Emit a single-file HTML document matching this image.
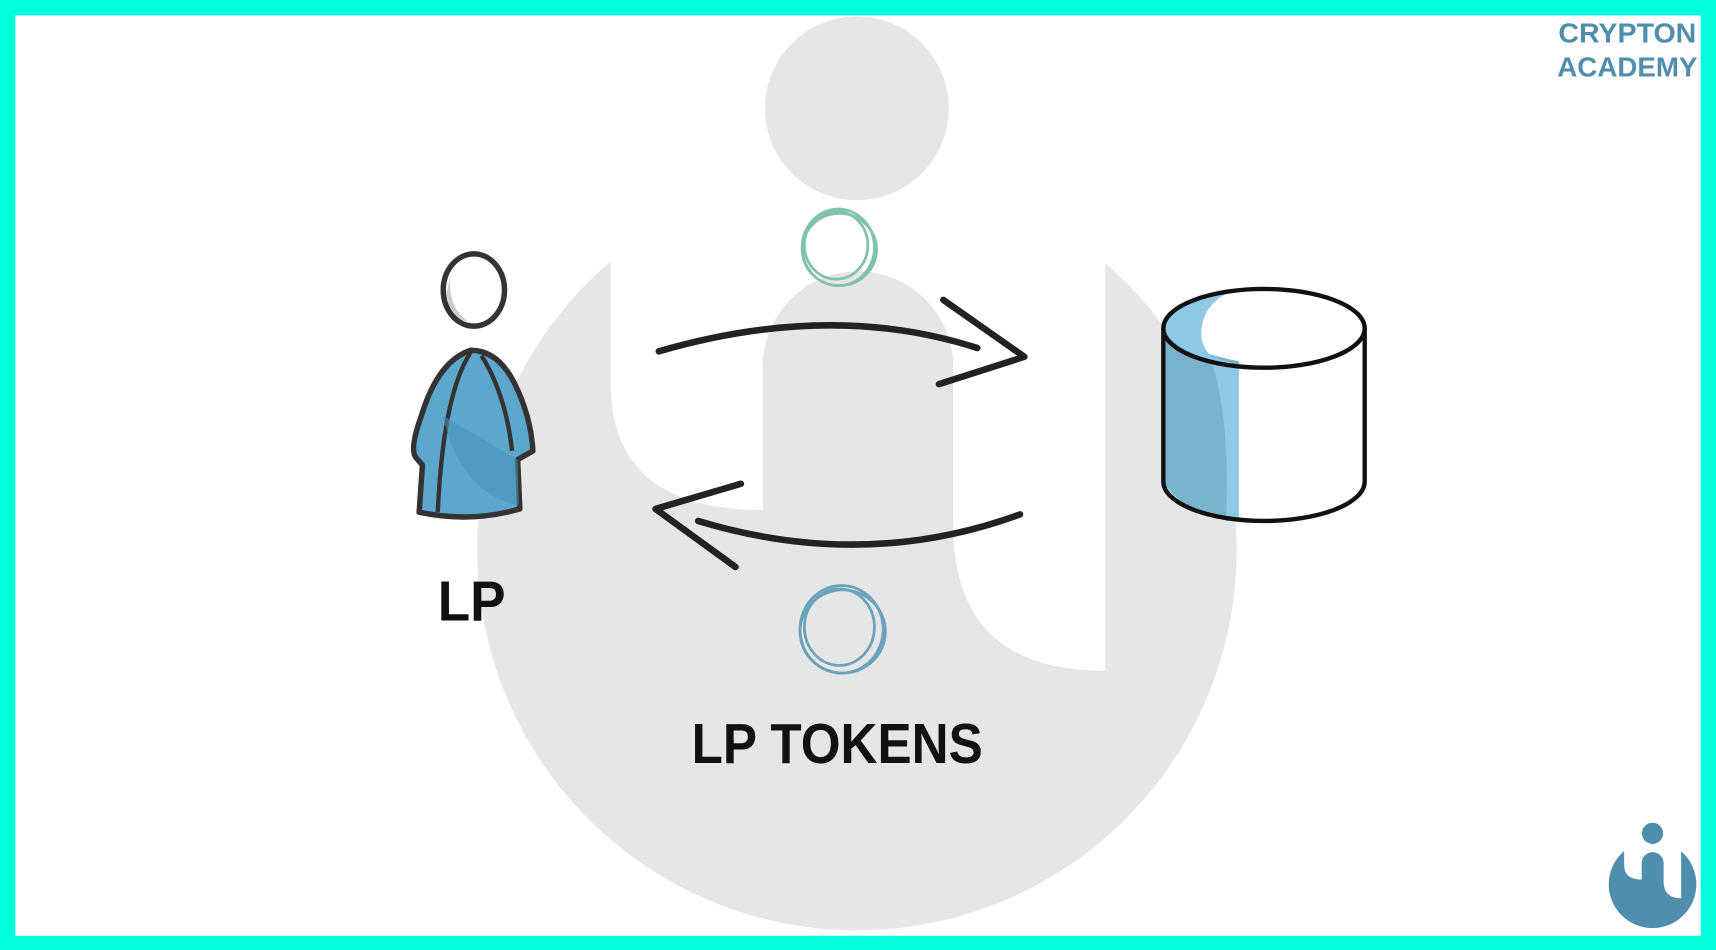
<!DOCTYPE html>
<html><head><meta charset="utf-8"><style>
html,body{margin:0;padding:0;background:#fff;}
svg{display:block;}
</style></head><body>
<svg width="1716" height="950" viewBox="0 0 1568 868" preserveAspectRatio="none" xmlns="http://www.w3.org/2000/svg">
<defs>
<g id="logo">
  <circle cx="783" cy="503" r="347"/>
  <path d="M558,100 L558,350 Q558,466 697,466 L697,335 A87,87 0 0 1 871,335 L871,480 Q871,613 1010,613 L1010,100 Z" fill="#fff"/>
  <circle cx="783" cy="99" r="84"/>
</g>
</defs>
<rect x="0" y="0" width="1568" height="868" fill="#fff"/>
<use href="#logo" fill="#e6e6e6"/>
<g transform="translate(1510,808) scale(0.1153) translate(-783,-503)"><use href="#logo" fill="#4f8fad"/></g>
<text x="1487" y="39" font-family="Liberation Sans, sans-serif" font-weight="bold" font-size="25" fill="#4f8fad" text-anchor="middle" textLength="126" lengthAdjust="spacingAndGlyphs">CRYPTON</text>
<text x="1487" y="70" font-family="Liberation Sans, sans-serif" font-weight="bold" font-size="25" fill="#4f8fad" text-anchor="middle" textLength="128" lengthAdjust="spacingAndGlyphs">ACADEMY</text>

<!-- person -->
<ellipse cx="433" cy="265" rx="28" ry="33" fill="#fff" stroke="#333" stroke-width="5"/>
<path d="M412,250 Q408,280 428,294 Q410,290 408,268 Z" fill="#ccc"/>
<path d="M430,320 Q400,330 385,380 Q374,410 380,418 L386,425 L383,468 Q430,478 475,465 L473,420 L487,412 Q485,380 470,350 Q455,320 430,320 Z" fill="#5ba8cc" stroke="#333" stroke-width="5" stroke-linejoin="round"/>
<path d="M430,322 Q405,360 400,468" fill="none" stroke="#333" stroke-width="4"/>
<path d="M440,325 Q462,360 468,412" fill="none" stroke="#333" stroke-width="4"/>
<path d="M405,380 Q420,450 474,462 L473,420 Z" fill="#4a93b8" opacity="0.6"/>

<!-- arrows -->
<g fill="none" stroke="#222" stroke-width="6" stroke-linecap="round" stroke-linejoin="round">
<path d="M602,321 Q760,275 893,318"/>
<path d="M862,274 L936,326 L858,351"/>
<path d="M932,470 Q790,522 638,476"/>
<path d="M677,442 L599,465 L672,518"/>
</g>

<!-- coins -->
<g fill="none" stroke="#80c2ac" stroke-width="2.5">
<ellipse cx="766" cy="226" rx="33" ry="35"/>
<ellipse cx="764" cy="224" rx="29" ry="31"/>
<ellipse cx="767" cy="228" rx="34" ry="33"/>
</g>
<g fill="none" stroke="#6aa2bc" stroke-width="2.5">
<ellipse cx="769" cy="575" rx="38" ry="40"/>
<ellipse cx="767" cy="573" rx="32" ry="35"/>
<ellipse cx="770" cy="577" rx="39" ry="38"/>
</g>

<!-- cylinder -->
<path d="M1063,300 L1063,440 Q1080,470 1132,476 L1132,330 Q1080,320 1063,300 Z" fill="#7ab3cc"/>
<path d="M1105,325 Q1125,380 1120,476 L1132,476 L1132,334 Z" fill="#8ecae6"/>
<path d="M1063,300 Q1070,272 1125,266 Q1095,280 1098,310 Q1102,325 1115,332 Q1075,322 1063,300 Z" fill="#8ecae6"/>
<ellipse cx="1155" cy="300" rx="92" ry="36" fill="none" stroke="#111" stroke-width="4"/>
<path d="M1063,300 L1063,440 A92,36 0 0 0 1247,440 L1247,300" fill="none" stroke="#111" stroke-width="4"/>

<text x="431" y="567" font-family="Liberation Sans, sans-serif" font-weight="bold" font-size="52" fill="#111" text-anchor="middle" textLength="62" lengthAdjust="spacingAndGlyphs">LP</text>
<text x="765" y="697" font-family="Liberation Sans, sans-serif" font-weight="bold" font-size="52" fill="#111" text-anchor="middle" textLength="266" lengthAdjust="spacingAndGlyphs">LP TOKENS</text>

<!-- border -->
<path d="M0,0 H1568 V868 H0 Z M14,14 V855 H1554 V14 Z" fill="#00FFDD" fill-rule="evenodd"/>
</svg>
</body></html>
